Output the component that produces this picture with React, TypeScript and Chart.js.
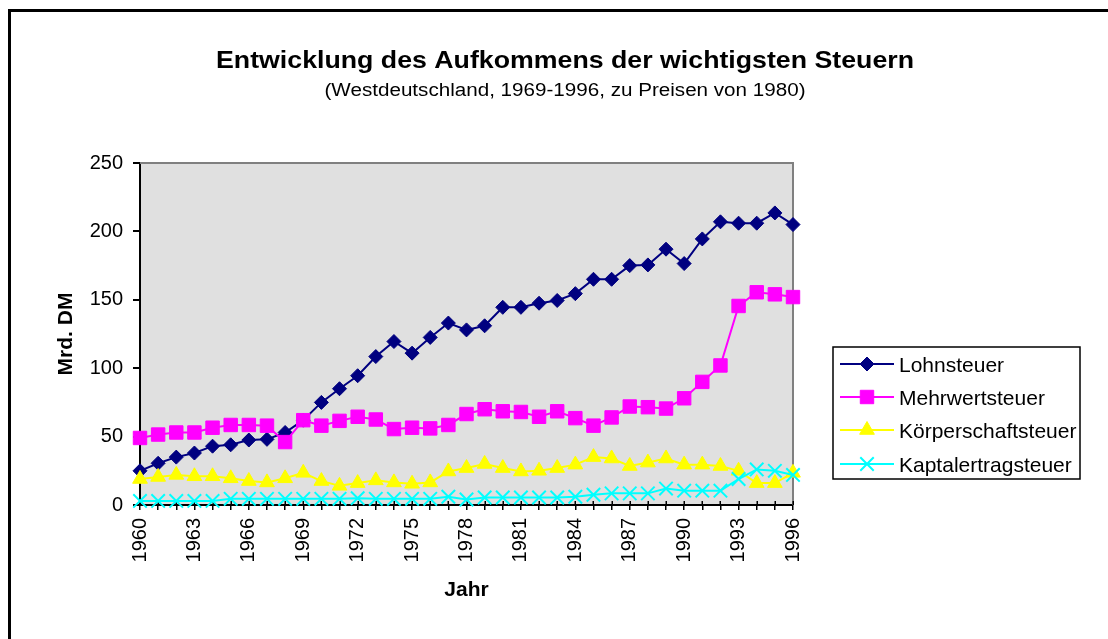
import React, { useEffect, useRef } from "react";
import { Chart, registerables } from "chart.js";
import { drawPoint } from "chart.js/helpers";

Chart.register(...registerables);

const FONT = "'Liberation Sans', Arial, sans-serif";

const years = [
  "1960", "1961", "1962", "1963", "1964", "1965", "1966", "1967", "1968", "1969",
  "1970", "1971", "1972", "1973", "1974", "1975", "1976", "1977", "1978", "1979",
  "1980", "1981", "1982", "1983", "1984", "1985", "1986", "1987", "1988", "1989",
  "1990", "1991", "1992", "1993", "1994", "1995", "1996",
];

const lohnsteuer = [
  25, 30.5, 35, 38, 43, 44, 47.5, 48, 53, 62,
  75, 85, 94.5, 108.5, 119.5, 111, 122.5, 133, 128, 131,
  144.5, 144.5, 147.5, 149.5, 154.5, 165, 165, 175, 175.5, 187,
  176.5, 194.5, 207, 206, 206, 213.5, 205,
];

const mehrwertsteuer = [
  49, 51.5, 53, 53, 56.5, 58.5, 58.5, 58, 46, 62,
  58, 61.5, 64.5, 62.5, 55.5, 56.5, 56, 58.5, 66.5, 70,
  68.5, 68, 64.5, 68.5, 63.5, 58, 64, 72, 71.5, 70.5,
  78, 90, 102, 145.5, 155.5, 154, 152,
];

const koerperschaftsteuer = [
  19, 20.5, 22, 21, 21, 19.5, 17.5, 16.5, 19.5, 23.5,
  17.5, 14, 16, 18, 16.5, 15.5, 16.5, 24.5, 27, 30,
  27, 24.5, 25, 27, 29.5, 35, 34, 28.5, 31, 34,
  29.5, 29.5, 28.5, 25, 16, 16, 23.5,
];

const kapitalertragsteuer = [
  3, 3, 3, 3, 3, 4.5, 4.5, 4.5, 4.5, 4.5,
  4.5, 4.5, 5, 4.5, 4.5, 4.5, 4.5, 6, 4, 5.5,
  5.5, 5.5, 5.5, 5.5, 6, 7.5, 8.5, 8.5, 8.5, 12,
  10.5, 10.5, 10.5, 19, 26, 25, 22,
];

const seriesNames = ["Lohnsteuer", "Mehrwertsteuer", "Körperschaftsteuer", "Kaptalertragsteuer"];
const titleText = "Entwicklung des Aufkommens der wichtigsten Steuern";
const subtitleText = "(Westdeutschland, 1969-1996, zu Preisen von 1980)";
const yTitle = "Mrd. DM";
const xTitle = "Jahr";

function fitText(ctx: CanvasRenderingContext2D, text: string, cx: number, y: number, font: string, width: number) {
  ctx.save();
  ctx.font = font;
  const m = ctx.measureText(text).width;
  ctx.translate(cx, y);
  ctx.scale(width / m, 1);
  ctx.textAlign = "center";
  ctx.textBaseline = "alphabetic";
  ctx.fillStyle = "#000";
  ctx.fillText(text, 0, 0);
  ctx.restore();
}

const decorPlugin = {
  id: "decor",
  beforeDraw(chart: any) {
    const { ctx, chartArea: a } = chart;
    ctx.save();
    ctx.fillStyle = "#e0e0e0";
    ctx.fillRect(a.left, a.top, a.right - a.left, a.bottom - a.top);
    ctx.restore();
  },
  beforeDatasetsDraw(chart: any) {
    const { ctx, chartArea: a } = chart;
    ctx.save();
    ctx.strokeStyle = "#808080";
    ctx.lineWidth = 2;
    ctx.beginPath();
    ctx.moveTo(a.left, a.top);
    ctx.lineTo(a.right, a.top);
    ctx.lineTo(a.right, a.bottom);
    ctx.stroke();
    // inner half of the x tick marks (crossing ticks)
    const xs = chart.scales.x;
    ctx.strokeStyle = "#000";
    ctx.lineWidth = 1.5;
    ctx.beginPath();
    for (let i = 0; i < xs.ticks.length; i++) {
      const px = Math.round(xs.getPixelForTick(i)) + 0.25;
      ctx.moveTo(px, a.bottom);
      ctx.lineTo(px, a.bottom - 4);
    }
    ctx.stroke();
    ctx.restore();
  },
  afterDraw(chart: any) {
    const { ctx } = chart;
    fitText(ctx, titleText, 565, 68, `bold 24px ${FONT}`, 698);
    fitText(ctx, subtitleText, 565, 96, `18px ${FONT}`, 481);

    // legend
    ctx.save();
    ctx.strokeStyle = "#000";
    ctx.lineWidth = 1.5;
    ctx.strokeRect(833, 347, 247, 132);
    const rows = [364, 397, 430, 464];
    chart.data.datasets.forEach((ds: any, i: number) => {
      const y = rows[i];
      ctx.strokeStyle = ds.borderColor;
      ctx.lineWidth = 2;
      ctx.beginPath();
      ctx.moveTo(840, y);
      ctx.lineTo(894, y);
      ctx.stroke();
      ctx.fillStyle = ds.pointBackgroundColor;
      ctx.strokeStyle = ds.pointBorderColor;
      ctx.lineWidth = ds.pointBorderWidth;
      drawPoint(ctx, { pointStyle: ds.pointStyle, radius: ds.pointRadius, rotation: 0, borderWidth: ds.pointBorderWidth }, 867, y);
      ctx.fillStyle = "#000";
      ctx.font = `21px ${FONT}`;
      ctx.textAlign = "left";
      ctx.textBaseline = "middle";
      ctx.fillText(ds.label, 899, y + 2);
    });
    ctx.restore();
  },
};

export default function App() {
  const ref = useRef<HTMLCanvasElement>(null);

  useEffect(() => {
    if (!ref.current) return;
    const mk = (label: string, data: number[], color: string, style: string, radius: number, bw: number, order: number) => ({
      label,
      data,
      borderColor: color,
      backgroundColor: color,
      pointBackgroundColor: color,
      pointBorderColor: color,
      pointStyle: style,
      pointRadius: radius,
      pointBorderWidth: bw,
      borderWidth: 2,
      tension: 0,
      clip: false,
      order,
    });
    const chart = new Chart(ref.current, {
      type: "line",
      data: {
        labels: years,
        datasets: [
          mk(seriesNames[0], lohnsteuer, "#000080", "rectRot", 7, 1, 4),
          mk(seriesNames[1], mehrwertsteuer, "#ff00ff", "rect", 9.5, 1, 3),
          mk(seriesNames[2], koerperschaftsteuer, "#ffff00", "triangle", 8.5, 1, 2),
          mk(seriesNames[3], kapitalertragsteuer, "#00ffff", "crossRot", 9.5, 2, 1),
        ] as any,
      },
      options: {
        responsive: false,
        animation: false,
        devicePixelRatio: 1,
        events: [],
        layout: { padding: { top: 163, left: 0, right: 315, bottom: 0 } },
        plugins: {
          legend: { display: false },
          title: { display: false },
          tooltip: { enabled: false },
        },
        scales: {
          x: {
            type: "category",
            offset: false,
            grid: { display: true, drawOnChartArea: false, drawTicks: true, tickLength: 5, color: "#000", lineWidth: 1.5 },
            border: { display: true, color: "#000", width: 2 },
            ticks: {
              autoSkip: false,
              maxRotation: 90,
              minRotation: 90,
              padding: 8,
              color: "#000",
              font: { family: FONT, size: 20 },
              callback: function (this: any, val: any, index: number) {
                return index % 3 === 0 ? this.getLabelForValue(val) : "";
              },
            },
            title: {
              display: true,
              text: xTitle,
              color: "#000",
              font: { family: FONT, size: 21, weight: "bold" },
              padding: { top: 0, bottom: 36 },
            },
            afterFit: (s: any) => {
              s.height = 134;
            },
          },
          y: {
            min: 0,
            max: 250,
            grid: { display: true, drawOnChartArea: false, drawTicks: true, tickLength: 7, color: "#000", lineWidth: 2 },
            border: { display: true, color: "#000", width: 2 },
            ticks: {
              stepSize: 50,
              padding: 10,
              color: "#000",
              font: { family: FONT, size: 20 },
            },
            title: {
              display: true,
              text: yTitle,
              color: "#000",
              font: { family: FONT, size: 21, weight: "bold" },
              padding: { top: 54, bottom: 0 },
            },
            afterFit: (s: any) => {
              s.width = 140;
            },
          },
        },
      } as any,
      plugins: [decorPlugin],
    });
    return () => chart.destroy();
  }, []);

  return (
    <div style={{ position: "fixed", left: 0, top: 0, width: 1108, height: 639, overflow: "hidden", background: "#fff" }}>
      <div
        style={{
          position: "absolute",
          left: 8,
          top: 9,
          width: 1300,
          height: 1000,
          border: "3px solid #000",
          boxSizing: "border-box",
        }}
      />
      <canvas ref={ref} width={1108} height={639} style={{ position: "absolute", left: 0, top: 0, display: "block" }} />
    </div>
  );
}
